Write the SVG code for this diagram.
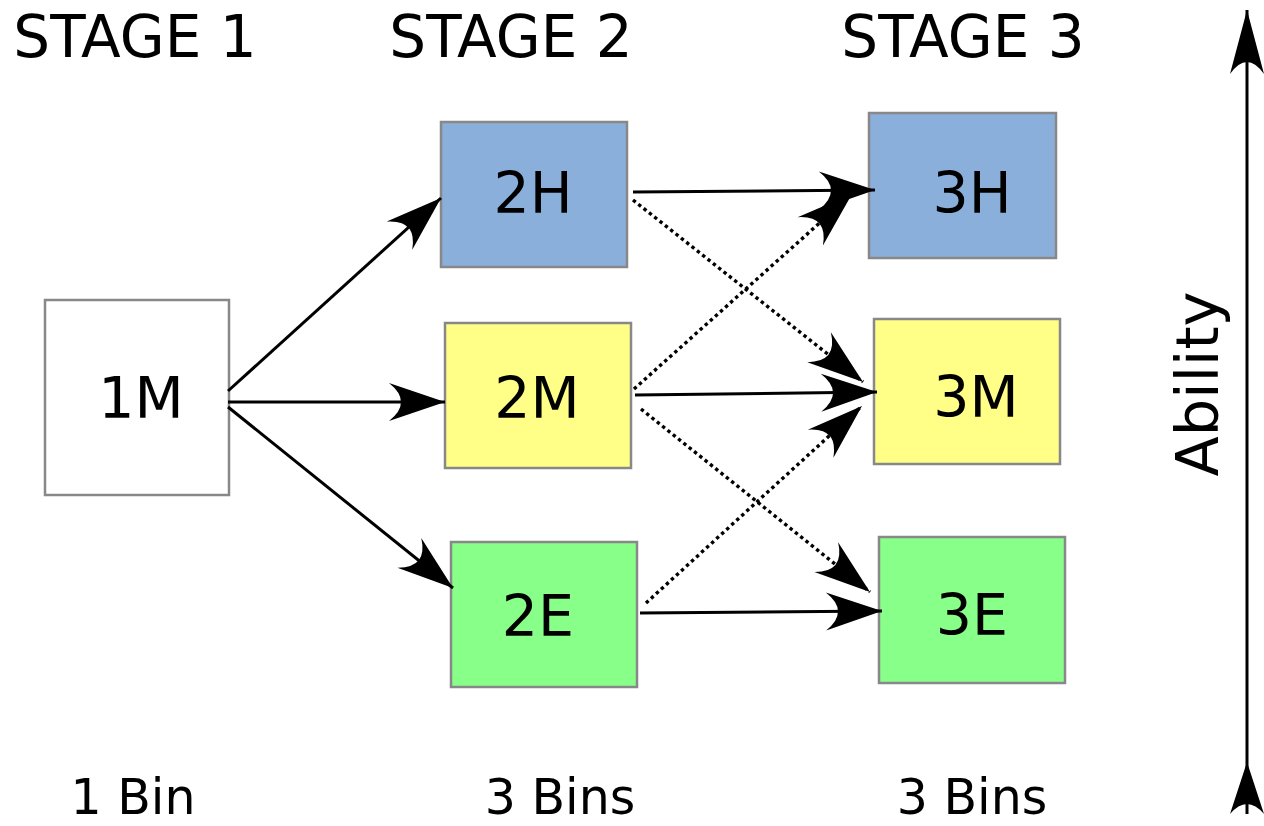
<svg xmlns="http://www.w3.org/2000/svg" width="1264" height="826" viewBox="0 0 1264 826">
  <style>
    .box { stroke: #888888; stroke-width: 2.5; }
    .lbl { font-family: "DejaVu Sans", "Liberation Sans", sans-serif; font-size: 57px; fill: #000; text-anchor: middle; }
    .stage { font-family: "DejaVu Sans", "Liberation Sans", sans-serif; font-size: 58px; fill: #000; text-anchor: middle; }
    .bins { font-family: "DejaVu Sans", "Liberation Sans", sans-serif; font-size: 49px; fill: #000; text-anchor: middle; }
    .solid { stroke: #000; stroke-width: 3; fill: none; marker-end: url(#head); }
    .dotted { stroke: #000; stroke-width: 3.4; fill: none; stroke-dasharray: 3.4 3.4; marker-end: url(#head); }
  </style>
  <defs>
    <marker id="head" markerUnits="userSpaceOnUse" orient="auto" refX="0" refY="0" markerWidth="64" markerHeight="44" viewBox="-60 -22 64 44" overflow="visible">
      <path d="M0,0 L-56,-19 Q-32,0 -56,19 Z" fill="#000"/>
    </marker>
    <marker id="axis-head" markerUnits="userSpaceOnUse" orient="auto" refX="0" refY="0" markerWidth="70" markerHeight="40" viewBox="-66 -20 70 40" overflow="visible">
      <path d="M0,0 L-64,-17 Q-40,0 -64,17 Z" fill="#000"/>
    </marker>
    <marker id="axis-tail" markerUnits="userSpaceOnUse" orient="auto" refX="-52" refY="0" markerWidth="60" markerHeight="40" viewBox="-56 -20 60 40" overflow="visible">
      <path d="M0,0 L-52,-17 Q-32,0 -52,17 Z" fill="#000"/>
    </marker>
  </defs>

  <!-- stage headings -->
  <g id="headings">
    <text class="stage" x="135" y="57">STAGE 1</text>
    <text class="stage" x="511" y="57">STAGE 2</text>
    <text class="stage" x="963" y="57">STAGE 3</text>
  </g>

  <!-- nodes -->
  <g id="n1M">
    <rect class="box" x="45" y="300" width="184" height="195" fill="#ffffff"/>
    <text class="lbl" x="141" y="418">1M</text>
  </g>
  <g id="n2H">
    <rect class="box" x="441" y="122" width="186" height="145" fill="#8aafdb"/>
    <text class="lbl" x="533" y="213">2H</text>
  </g>
  <g id="n2M">
    <rect class="box" x="445" y="323" width="186" height="145" fill="#ffff88"/>
    <text class="lbl" x="537" y="418">2M</text>
  </g>
  <g id="n2E">
    <rect class="box" x="451" y="542" width="186" height="145" fill="#88ff88"/>
    <text class="lbl" x="538" y="636">2E</text>
  </g>
  <g id="n3H">
    <rect class="box" x="869" y="113" width="187" height="145" fill="#8aafdb"/>
    <text class="lbl" x="972" y="213">3H</text>
  </g>
  <g id="n3M">
    <rect class="box" x="874" y="319" width="186" height="145" fill="#ffff88"/>
    <text class="lbl" x="976" y="417">3M</text>
  </g>
  <g id="n3E">
    <rect class="box" x="879" y="537" width="186" height="146" fill="#88ff88"/>
    <text class="lbl" x="972" y="635">3E</text>
  </g>

  <!-- connectors -->
  <g id="connectors">
    <path class="solid" d="M228,391 L441,198"/>
    <path class="solid" d="M228,402 L445,402"/>
    <path class="solid" d="M228,407 L453,588"/>
    <path class="solid" d="M633,192 L875,190"/>
    <path class="dotted" d="M633,200 L863,382"/>
    <path class="dotted" d="M634,389 L852,194"/>
    <path class="solid" d="M635,395 L877,392"/>
    <path class="dotted" d="M641,409 L870,592"/>
    <path class="dotted" d="M646,603 L862,406"/>
    <path class="solid" d="M640,613 L882,611"/>
  </g>

  <!-- ability axis -->
  <g id="axis">
    <path d="M1247,814 L1247,10" stroke="#000" stroke-width="3" fill="none" marker-start="url(#axis-tail)" marker-end="url(#axis-head)"/>
    <text transform="translate(1218,384) rotate(-90)" font-family="DejaVu Sans, Liberation Sans, sans-serif" font-size="59" text-anchor="middle">Ability</text>
  </g>

  <!-- bin counts -->
  <g id="bins">
    <text class="bins" x="133" y="814">1 Bin</text>
    <text class="bins" x="560" y="814">3 Bins</text>
    <text class="bins" x="972" y="814">3 Bins</text>
  </g>
</svg>
